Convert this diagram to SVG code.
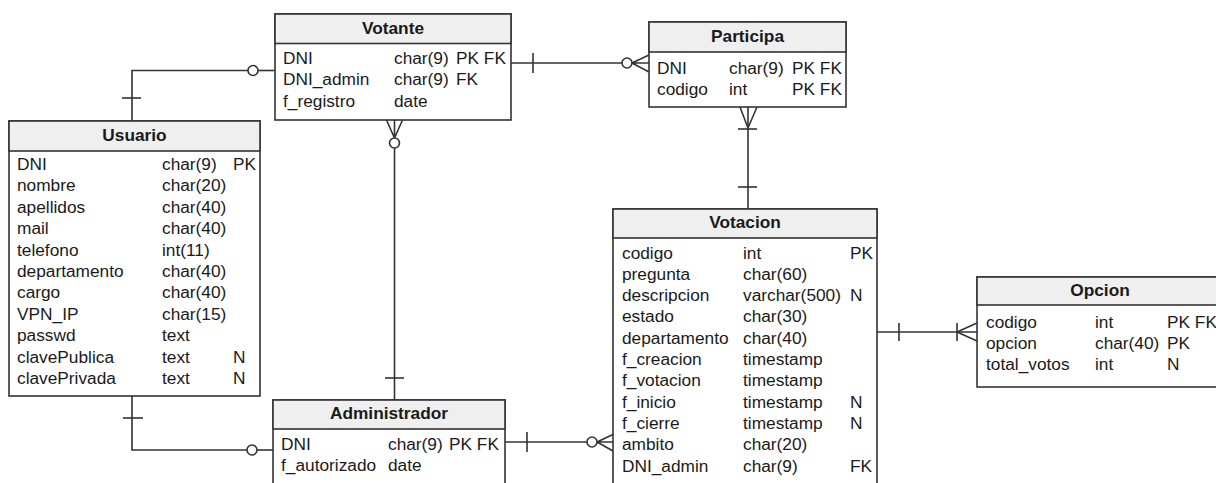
<svg xmlns="http://www.w3.org/2000/svg" width="1216" height="483" viewBox="0 0 1216 483">
  <style>
    .box { fill: #ffffff; stroke: #333333; stroke-width: 1.6; }
    .head { fill: #efefef; stroke: #333333; stroke-width: 1.6; }
    .title { font-family: "Liberation Sans", Arial, sans-serif; font-size: 17.3px; font-weight: bold; fill: #1a1a1a; text-anchor: middle; }
    .t { font-family: "Liberation Sans", Arial, sans-serif; font-size: 17.3px; fill: #1a1a1a; }
    .ln { fill: none; stroke: #333333; stroke-width: 1.6; }
    .dot { fill: #ffffff; stroke: #333333; stroke-width: 1.6; }
  </style>
  <rect width="1216" height="483" fill="#ffffff"/>

  <!-- relationships -->
  <g id="connectors">
    <!-- Usuario 1 — 0..1 Votante -->
    <path class="ln" d="M132 121 V70.5 H248"/>
    <path class="ln" d="M258 70.5 H275"/>
    <circle class="dot" cx="253" cy="70.5" r="5"/>
    <path class="ln" d="M122 98 H141"/>

    <!-- Usuario 1 — 0..1 Administrador -->
    <path class="ln" d="M132 396 V450 H247"/>
    <path class="ln" d="M257 450 H273"/>
    <circle class="dot" cx="252" cy="450" r="5"/>
    <path class="ln" d="M123 418 H143"/>

    <!-- Votante 1 — 0..N Participa -->
    <path class="ln" d="M511 63 H622"/>
    <path class="ln" d="M533 53 V73"/>
    <circle class="dot" cx="627" cy="63" r="5"/>
    <path class="ln" d="M632 63 L649 55 M632 63 H649 M632 63 L649 72"/>

    <!-- Administrador 1 — 0..N Votante -->
    <path class="ln" d="M394.5 148 V400"/>
    <path class="ln" d="M385 378 H404"/>
    <circle class="dot" cx="394.5" cy="143" r="5"/>
    <path class="ln" d="M394.5 138 L386.5 120 M394.5 138 V120 M394.5 138 L402.5 120"/>

    <!-- Votacion 1 — 1..N Participa -->
    <path class="ln" d="M748 107 V209"/>
    <path class="ln" d="M748 128 L740 107 M748 128 L757 107"/>
    <path class="ln" d="M738 129 H757"/>
    <path class="ln" d="M738 187 H757"/>

    <!-- Votacion 1 — 1..N Opcion -->
    <path class="ln" d="M877 332 H977"/>
    <path class="ln" d="M899 323 V341"/>
    <path class="ln" d="M957 323 V341"/>
    <path class="ln" d="M957 332 L977 323 M957 332 L977 341"/>

    <!-- Administrador 1 — 0..N Votacion -->
    <path class="ln" d="M505 442 H587"/>
    <path class="ln" d="M527 432 V452"/>
    <circle class="dot" cx="592" cy="442" r="5"/>
    <path class="ln" d="M597 442 L613 434.5 M597 442 H613 M597 442 L613 451"/>
  </g>

  <!-- Votante -->
  <g id="votante">
    <rect class="box" x="275" y="14" width="236" height="106"/>
    <rect class="head" x="275" y="14" width="236" height="29.5"/>
    <text class="title" x="393" y="33.5">Votante</text>
    <text class="t" x="283" y="64">DNI</text>
    <text class="t" x="394" y="64">char(9)</text>
    <text class="t" x="456" y="64">PK FK</text>
    <text class="t" x="283" y="85.4">DNI_admin</text>
    <text class="t" x="394" y="85.4">char(9)</text>
    <text class="t" x="456" y="85.4">FK</text>
    <text class="t" x="283" y="106.8">f_registro</text>
    <text class="t" x="394" y="106.8">date</text>
  </g>

  <!-- Participa -->
  <g id="participa">
    <rect class="box" x="649" y="22" width="197" height="85"/>
    <rect class="head" x="649" y="22" width="197" height="30"/>
    <text class="title" x="747.5" y="42">Participa</text>
    <text class="t" x="657" y="74">DNI</text>
    <text class="t" x="729" y="74">char(9)</text>
    <text class="t" x="792" y="74">PK FK</text>
    <text class="t" x="657" y="95.3">codigo</text>
    <text class="t" x="729" y="95.3">int</text>
    <text class="t" x="792" y="95.3">PK FK</text>
  </g>

  <!-- Usuario -->
  <g id="usuario">
    <rect class="box" x="9" y="121" width="251" height="275"/>
    <rect class="head" x="9" y="121" width="251" height="30"/>
    <text class="title" x="134.5" y="141">Usuario</text>
    <text class="t" x="17" y="170">DNI</text>
    <text class="t" x="162" y="170">char(9)</text>
    <text class="t" x="233" y="170">PK</text>
    <text class="t" x="17" y="191.4">nombre</text>
    <text class="t" x="162" y="191.4">char(20)</text>
    <text class="t" x="17" y="212.8">apellidos</text>
    <text class="t" x="162" y="212.8">char(40)</text>
    <text class="t" x="17" y="234.2">mail</text>
    <text class="t" x="162" y="234.2">char(40)</text>
    <text class="t" x="17" y="255.6">telefono</text>
    <text class="t" x="162" y="255.6">int(11)</text>
    <text class="t" x="17" y="277">departamento</text>
    <text class="t" x="162" y="277">char(40)</text>
    <text class="t" x="17" y="298.4">cargo</text>
    <text class="t" x="162" y="298.4">char(40)</text>
    <text class="t" x="17" y="319.8">VPN_IP</text>
    <text class="t" x="162" y="319.8">char(15)</text>
    <text class="t" x="17" y="341.2">passwd</text>
    <text class="t" x="162" y="341.2">text</text>
    <text class="t" x="17" y="362.6">clavePublica</text>
    <text class="t" x="162" y="362.6">text</text>
    <text class="t" x="233" y="362.6">N</text>
    <text class="t" x="17" y="384">clavePrivada</text>
    <text class="t" x="162" y="384">text</text>
    <text class="t" x="233" y="384">N</text>
  </g>

  <!-- Votacion -->
  <g id="votacion">
    <rect class="box" x="613" y="209" width="264" height="290"/>
    <rect class="head" x="613" y="209" width="264" height="29"/>
    <text class="title" x="745" y="228">Votacion</text>
    <text class="t" x="622" y="258.5">codigo</text>
    <text class="t" x="743" y="258.5">int</text>
    <text class="t" x="850" y="258.5">PK</text>
    <text class="t" x="622" y="279.8">pregunta</text>
    <text class="t" x="743" y="279.8">char(60)</text>
    <text class="t" x="622" y="301.1">descripcion</text>
    <text class="t" x="743" y="301.1">varchar(500)</text>
    <text class="t" x="850" y="301.1">N</text>
    <text class="t" x="622" y="322.4">estado</text>
    <text class="t" x="743" y="322.4">char(30)</text>
    <text class="t" x="622" y="343.7">departamento</text>
    <text class="t" x="743" y="343.7">char(40)</text>
    <text class="t" x="622" y="365">f_creacion</text>
    <text class="t" x="743" y="365">timestamp</text>
    <text class="t" x="622" y="386.3">f_votacion</text>
    <text class="t" x="743" y="386.3">timestamp</text>
    <text class="t" x="622" y="407.6">f_inicio</text>
    <text class="t" x="743" y="407.6">timestamp</text>
    <text class="t" x="850" y="407.6">N</text>
    <text class="t" x="622" y="428.9">f_cierre</text>
    <text class="t" x="743" y="428.9">timestamp</text>
    <text class="t" x="850" y="428.9">N</text>
    <text class="t" x="622" y="450.2">ambito</text>
    <text class="t" x="743" y="450.2">char(20)</text>
    <text class="t" x="622" y="471.5">DNI_admin</text>
    <text class="t" x="743" y="471.5">char(9)</text>
    <text class="t" x="850" y="471.5">FK</text>
  </g>

  <!-- Opcion -->
  <g id="opcion">
    <rect class="box" x="977" y="277" width="250" height="110"/>
    <rect class="head" x="977" y="277" width="250" height="28"/>
    <text class="title" x="1100" y="296">Opcion</text>
    <text class="t" x="986" y="327.5">codigo</text>
    <text class="t" x="1095" y="327.5">int</text>
    <text class="t" x="1167" y="327.5">PK FK</text>
    <text class="t" x="986" y="348.8">opcion</text>
    <text class="t" x="1095" y="348.8">char(40)</text>
    <text class="t" x="1167" y="348.8">PK</text>
    <text class="t" x="986" y="370.1">total_votos</text>
    <text class="t" x="1095" y="370.1">int</text>
    <text class="t" x="1167" y="370.1">N</text>
  </g>

  <!-- Administrador -->
  <g id="administrador">
    <rect class="box" x="273" y="400" width="232" height="100"/>
    <rect class="head" x="273" y="400" width="232" height="29"/>
    <text class="title" x="389" y="418.5">Administrador</text>
    <text class="t" x="281" y="450">DNI</text>
    <text class="t" x="388" y="450">char(9)</text>
    <text class="t" x="449" y="450">PK FK</text>
    <text class="t" x="281" y="471.3">f_autorizado</text>
    <text class="t" x="388" y="471.3">date</text>
  </g>
</svg>
